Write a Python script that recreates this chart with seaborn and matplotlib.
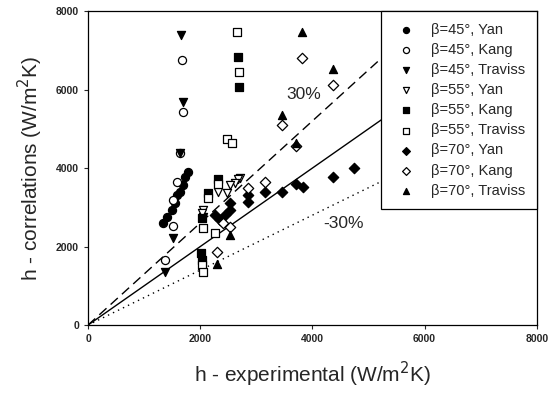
import seaborn as sns
import matplotlib.pyplot as plt
import numpy as np
import pandas as pd

# experimental vs correlation heat transfer coefficient (W/m2K)
b45_yan_x = [1780, 1730, 1700, 1640, 1590, 1550, 1500, 1410, 1340]
b45_yan_y = [3900, 3770, 3570, 3390, 3310, 3110, 2930, 2750, 2600]
b45_kang_x = [1680, 1700, 1640, 1590, 1520, 1520, 1370]
b45_kang_y = [6750, 5430, 4380, 3640, 3180, 2520, 1660]
b45_traviss_x = [1660, 1700, 1640, 2050, 1520, 1370]
b45_traviss_y = [7390, 5680, 4380, 2750, 2220, 1350]
b55_yan_x = [2710, 2680, 2620, 2540, 2480, 2320, 2050, 2040]
b55_yan_y = [3750, 3720, 3620, 3570, 3360, 3390, 2930, 2850]
b55_kang_x = [2680, 2700, 2320, 2140, 2040, 2020, 2040]
b55_kang_y = [6830, 6060, 3720, 3360, 2730, 1830, 1660]
b55_traviss_x = [2660, 2700, 2480, 2570, 2320, 2140, 2050, 2270, 2040, 2050]
b55_traviss_y = [7470, 6450, 4740, 4640, 3590, 3240, 2470, 2340, 1530, 1350]
b70_yan_x = [2540, 2450, 2360, 2270, 2540, 2860, 2860, 3160, 3460, 3710, 3840, 4370, 4740]
b70_yan_y = [2930, 2800, 2680, 2800, 3110, 3310, 3130, 3390, 3390, 3590, 3520, 3760, 3990]
b70_kang_x = [3820, 4360, 3460, 3710, 2860, 3160, 2410, 2540, 2300]
b70_kang_y = [6800, 6120, 5100, 4560, 3490, 3640, 2600, 2500, 1850]
b70_traviss_x = [3820, 4360, 3450, 3700, 2540, 2300]
b70_traviss_y = [7470, 6520, 5350, 4640, 2290, 1560]

series = [
    ('β=45°, Yan', b45_yan_x, b45_yan_y, 'o', 'black'),
    ('β=45°, Kang', b45_kang_x, b45_kang_y, 'o', 'white'),
    ('β=45°, Traviss', b45_traviss_x, b45_traviss_y, 'v', 'black'),
    ('β=55°, Yan', b55_yan_x, b55_yan_y, 'v', 'white'),
    ('β=55°, Kang', b55_kang_x, b55_kang_y, 's', 'black'),
    ('β=55°, Traviss', b55_traviss_x, b55_traviss_y, 's', 'white'),
    ('β=70°, Yan', b70_yan_x, b70_yan_y, 'D', 'black'),
    ('β=70°, Kang', b70_kang_x, b70_kang_y, 'D', 'white'),
    ('β=70°, Traviss', b70_traviss_x, b70_traviss_y, '^', 'black'),
]

sns.set_style('ticks')
plt.rcParams['font.family'] = ['Liberation Sans', 'DejaVu Sans']

fig = plt.figure(figsize=(5.5, 3.95), dpi=100)
ax = fig.add_axes([0.16, 0.177, 0.816, 0.795])

# reference lines: y = x, +30 %, -30 %
line_x = np.array([0, 8000])
ax.plot(line_x, line_x, color='black', lw=1, zorder=1)
ax.plot(line_x, 1.3 * line_x, color='black', lw=1, ls=(0, (7, 4)), zorder=1)
ax.plot(line_x, 0.7 * line_x, color='black', lw=1, ls=(0, (1, 3)), zorder=1)

for label, xs, ys, marker, face in series:
    df = pd.DataFrame({'x': xs, 'y': ys})
    size = 28 if marker == 'D' else 34
    sns.scatterplot(data=df, x='x', y='y', marker=marker, color=face,
                    edgecolor='black', linewidth=0.9, s=size, label=label,
                    ax=ax, zorder=3)

ax.text(3840, 5865, '30%', fontsize=12.5, ha='center', va='center')
ax.text(4550, 2600, '-30%', fontsize=12.5, ha='center', va='center')

ax.set_xlim(0, 8000)
ax.set_ylim(0, 8000)
ax.set_xticks([0, 2000, 4000, 6000, 8000])
ax.set_yticks([0, 2000, 4000, 6000, 8000])
ax.tick_params(labelsize=7.5, length=3, width=0.8, direction='out')
for lab in ax.get_xticklabels() + ax.get_yticklabels():
    lab.set_fontweight('bold')
for sp in ax.spines.values():
    sp.set_linewidth(0.9)
    sp.set_color('black')

ax.set_xlabel('h - experimental (W/m$^2$K)', fontsize=15, labelpad=11)
ax.set_ylabel('h - correlations (W/m$^2$K)', fontsize=15, labelpad=8)

leg = ax.legend(loc='upper right', bbox_to_anchor=(1, 1), borderaxespad=0,
                fontsize=10.5, frameon=True, fancybox=False, framealpha=1,
                edgecolor='black', handletextpad=0.8, labelspacing=0.42,
                markerscale=0.75, borderpad=0.8, handlelength=1.8)
leg.get_frame().set_linewidth(0.9)
leg.set_zorder(5)

fig.savefig('out.png', dpi=100)
